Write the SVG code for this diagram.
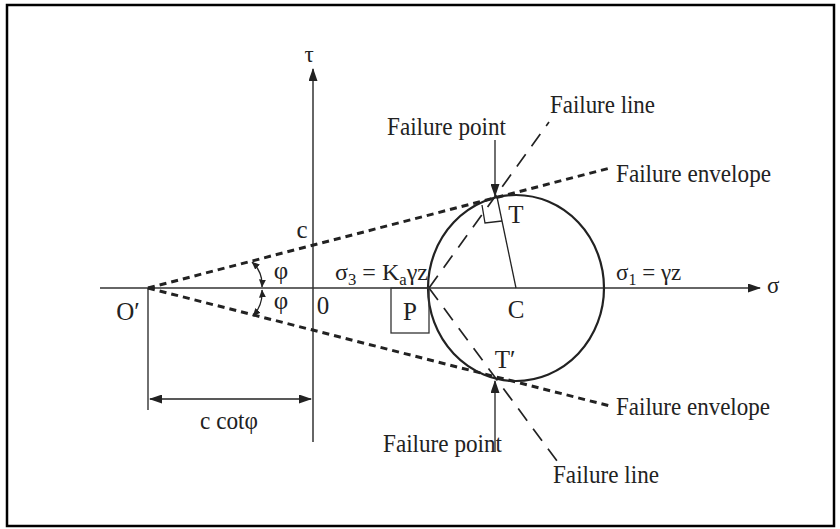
<svg xmlns="http://www.w3.org/2000/svg" width="840" height="529" viewBox="0 0 840 529">
<style>
text{font-family:"Liberation Serif","Times New Roman",serif;fill:#222;}
.lbl{font-size:23px;}
.big{font-size:25px;}
.ax{stroke:#333;stroke-width:1.5;fill:none;}
.env{stroke:#222;stroke-width:3;stroke-dasharray:7 5;fill:none;}
.fl{stroke:#222;stroke-width:1.7;stroke-dasharray:15 10;fill:none;}
.thin{stroke:#222;stroke-width:1.3;fill:none;}
</style>
<defs>
<marker id="ah" viewBox="0 0 13 9" refX="12" refY="4.5" markerWidth="13" markerHeight="9" markerUnits="userSpaceOnUse" orient="auto-start-reverse">
<path d="M0,0 L13,4.5 L0,9 Z" fill="#222"/>
</marker>
<marker id="sa" viewBox="0 0 8 7" refX="7.5" refY="3.5" markerWidth="8" markerHeight="7" markerUnits="userSpaceOnUse" orient="auto-start-reverse">
<path d="M0,0 L8,3.5 L0,7 Z" fill="#222"/>
</marker>
</defs>
<rect x="7" y="5" width="827" height="521" fill="none" stroke="#000" stroke-width="2.5"/>
<g id="connectors">
<line class="ax" x1="100" y1="288" x2="760" y2="288" marker-end="url(#ah)"/>
<line class="ax" x1="313" y1="442" x2="313" y2="69" marker-end="url(#ah)"/>
<line class="thin" x1="148" y1="288" x2="148" y2="410"/>
<line class="thin" x1="150" y1="399" x2="311" y2="399" marker-start="url(#ah)" marker-end="url(#ah)"/>
<line class="env" x1="148" y1="288" x2="610" y2="168"/>
<line class="env" x1="148" y1="288" x2="610" y2="406"/>
<line class="fl" x1="429" y1="288" x2="549" y2="122"/>
<line class="fl" x1="429" y1="288" x2="557" y2="461"/>
<line class="thin" x1="516" y1="288" x2="497" y2="197"/>
<polyline class="thin" points="482,205 485,223 502,221"/>
<line class="thin" x1="495" y1="140" x2="495" y2="196" marker-end="url(#ah)"/>
<line class="thin" x1="495" y1="452" x2="495" y2="381" marker-end="url(#ah)"/>
<path class="thin" d="M252,262 Q263,272 262,287" marker-start="url(#sa)" marker-end="url(#sa)"/>
<path class="thin" d="M262,290 Q263,305 253,316" marker-start="url(#sa)" marker-end="url(#sa)"/>
</g>
<g id="circle">
<ellipse cx="516" cy="288" rx="88" ry="93" fill="none" stroke="#222" stroke-width="2.2"/>
</g>
<g id="P">
<rect x="391" y="288" width="38" height="45" fill="none" stroke="#333" stroke-width="1.3"/>
<text class="big" x="410" y="320" text-anchor="middle">P</text>
</g>
<g id="C"><text class="big" x="516" y="318" text-anchor="middle">C</text></g>
<g id="T"><text class="big" x="516" y="223" text-anchor="middle">T</text></g>
<g id="Tp"><text class="big" x="505" y="368" text-anchor="middle">T′</text></g>
<g id="Op"><text class="big" x="128" y="320" text-anchor="middle">O′</text></g>
<g id="zero"><text class="big" x="323" y="314" text-anchor="middle">0</text></g>
<g id="tau"><text class="lbl" x="309" y="62" text-anchor="middle">τ</text></g>
<g id="sigma"><text class="lbl" x="767" y="293">σ</text></g>
<g id="c"><text class="big" x="302" y="238" text-anchor="middle">c</text></g>
<g id="phi1"><text class="big" x="281" y="279" text-anchor="middle">φ</text></g>
<g id="phi2"><text class="big" x="281" y="309" text-anchor="middle">φ</text></g>
<g id="sigma3"><text class="lbl" x="335" y="280" textLength="93" lengthAdjust="spacingAndGlyphs">σ<tspan font-size="16" dy="5">3</tspan><tspan dy="-5"> = K</tspan><tspan font-size="16" dy="5">a</tspan><tspan dy="-5">γz</tspan></text></g>
<g id="sigma1"><text class="lbl" x="616" y="280">σ<tspan font-size="16" dy="5">1</tspan><tspan dy="-5"> = γz</tspan></text></g>
<g id="ccot"><text class="big" x="229" y="429" text-anchor="middle" textLength="58" lengthAdjust="spacingAndGlyphs">c cotφ</text></g>
<g id="fl-top"><text class="big" x="550" y="113" textLength="105" lengthAdjust="spacingAndGlyphs">Failure line</text></g>
<g id="fp-top"><text class="big" x="387" y="135" textLength="119" lengthAdjust="spacingAndGlyphs">Failure point</text></g>
<g id="fe-top"><text class="big" x="616" y="182" textLength="155" lengthAdjust="spacingAndGlyphs">Failure envelope</text></g>
<g id="fe-bot"><text class="big" x="616" y="415" textLength="154" lengthAdjust="spacingAndGlyphs">Failure envelope</text></g>
<g id="fp-bot"><text class="big" x="383" y="452" textLength="119" lengthAdjust="spacingAndGlyphs">Failure point</text></g>
<g id="fl-bot"><text class="big" x="553" y="483" textLength="106" lengthAdjust="spacingAndGlyphs">Failure line</text></g>
</svg>
